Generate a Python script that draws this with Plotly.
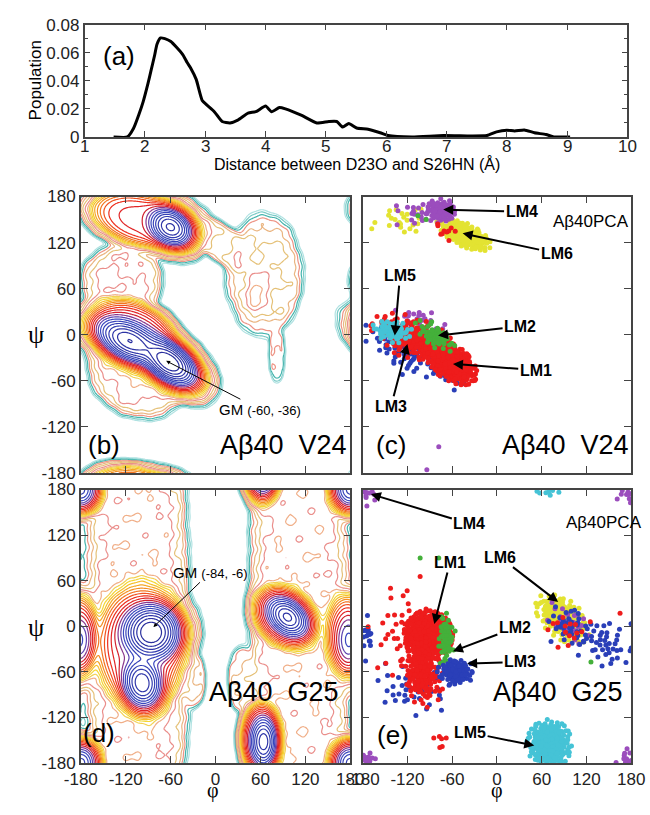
import numpy as np
import plotly.graph_objects as go

# ---------------- panel (a): distance distribution ----------------
dist = [1.48, 1.71, 1.81, 1.90, 1.97, 2.05, 2.10, 2.16, 2.20, 2.26, 2.33, 2.43, 2.52, 2.63, 2.70,
        2.76, 2.85, 2.95, 3.02, 3.15, 3.28, 3.41, 3.54, 3.71, 3.84, 4.00, 4.10, 4.23, 4.33,
        4.59, 4.85, 5.05, 5.18, 5.28, 5.38, 5.51, 5.70, 5.90, 6.03, 6.43, 6.95, 7.41, 7.67,
        7.83, 8.00, 8.13, 8.29, 8.46, 8.65, 8.78, 9.05]
population = [0.0, 0.0, 0.006, 0.016, 0.025, 0.038, 0.047, 0.058, 0.066, 0.0705, 0.070, 0.068,
              0.064, 0.0585, 0.053, 0.049, 0.041, 0.026, 0.023, 0.018, 0.011, 0.010, 0.012,
              0.017, 0.018, 0.022, 0.018, 0.021, 0.020, 0.0155, 0.010, 0.011, 0.011, 0.007,
              0.0096, 0.0064, 0.0055, 0.003, 0.001, 0.0, 0.001, 0.0007, 0.001, 0.0036, 0.0048,
              0.0043, 0.005, 0.003, 0.0017, 0.0, 0.0]
a_xticks = [1, 2, 3, 4, 5, 6, 7, 8, 9, 10]
a_yticks = [0, 0.02, 0.04, 0.06, 0.08]
a_yticktext = ["0", "0.02", "0.04", "0.06", "0.08"]

# ---------------- Ramachandran ticks ----------------
ang_ticks = [-180, -120, -60, 0, 60, 120, 180]
ang_ticktext = ["-180", "-120", "-60", "0", "60", "120", "180"]

# ---------------- free-energy basins (phi0, psi0, s1, s2, angle, g0, power) -------------
v24_phi0 = [-62, -115, -108, -100, -125, -60, -100, -90, 10, 65, 55, 82]
v24_psi0 = [-36, -8, 2, -40, 70, 140, 150, 150, 118, 78, 55, -25]
v24_s1 = [26, 30, 50, 62, 48, 20, 55, 78, 40, 46, 13, 11]
v24_s2 = [15, 16, 32, 58, 42, 15, 28, 38, 22, 70, 20, 36]
v24_ang = [-35, -25, -25, -30, 0, -30, -15, -10, -40, 0, 0, 0]
v24_g0 = [0.0, 0.4, 3.0, 6.2, 6.5, 0.6, 3.3, 6.3, 7.2, 7.0, 6.2, 8.2]
v24_pw = [1, 1, 2, 3, 3, 1, 2, 3, 3, 3, 1, 3]

g25_phi0 = [-86, -98, -100, 96, 93, 64, 60, 180, 180, 178, 175, -105, 112, -30, 35]
g25_psi0 = [-8, -75, -25, 12, 12, -152, -148, 180, 180, -18, -10, 0, 0, -70, -70]
g25_s1 = [23, 17, 48, 20, 38, 12, 22, 14, 25, 14, 24, 60, 58, 16, 18]
g25_s2 = [22, 22, 65, 14, 30, 22, 38, 16, 28, 28, 45, 400, 400, 35, 40]
g25_ang = [0, 10, 0, -40, -40, 0, 0, 0, 0, 0, 0, 0, 0, 0, 0]
g25_g0 = [0.0, 0.7, 3.0, 0.6, 3.0, 0.8, 3.0, 1.5, 3.5, 2.2, 3.8, 6.2, 6.2, 7.5, 7.5]
g25_pw = [1, 1, 2, 1, 2, 1, 2, 1, 2, 1, 2, 3, 3, 3, 3]

# contour colours by free-energy level
level_g = [0.0, 2.2, 2.7, 3.0, 3.6, 4.3, 5.0, 5.6, 6.1, 6.7, 7.3, 7.9, 8.4, 8.7, 10.0]
level_col = ["#2a2f9e", "#3b49c0", "#7a3aa0", "#d01f30", "#ec2a1f", "#f37a20", "#f6b324", "#f3e23a",
             "#f0a890", "#e8868a", "#e4dc70", "#ee9a8c", "#ec9080", "#3fb2aa", "#b0e2e2"]

# ---------------- PCA cluster point clouds (phi, psi, s1, s2, angle, n, colour) ---------
RED, GREEN, BLUE, PURPLE, YELLOW, CYAN = "#ee1c1c", "#44b03a", "#2a3fb8", "#9b4dbd", "#e3e332", "#45c3d6"

c_phi = [-43, -125, -75, -100, -100, -120, -65, -112, -70, -62, -140, -82]
c_psi = [130, 150, 162, 158, 20, -20, -50, -5, 135, -36, 5, -2]
c_s1 = [15, 20, 8, 18, 18, 26, 14, 24, 10, 16, 11, 13]
c_s2 = [6, 10, 6, 9, 5, 13, 7, 11, 5, 9, 6, 6]
c_ang = [-25, 0, 0, 0, -20, -25, -30, -20, 0, -35, -10, -30]
c_n = [260, 25, 90, 30, 20, 90, 20, 240, 10, 480, 80, 60]
c_col = [YELLOW, YELLOW, PURPLE, PURPLE, PURPLE, BLUE, BLUE, RED, RED, RED, CYAN, GREEN]
c_extra_phi = [-78, -94, -106, -95]
c_extra_psi = [-146, -176, 155, 150]
c_extra_col = [PURPLE, PURPLE, GREEN, GREEN]

e_phi = [180, 70, 88, 95, 140, -110, -175, 95, -122, -100, -92, -75, -68, -55, 95]
e_psi = [180, -155, 10, 5, -20, -80, -10, 0, -5, -62, -12, -150, -18, -60, -5]
e_s1 = [9, 12, 17, 14, 24, 25, 4, 15, 22, 11, 13, 4, 5, 10, 15]
e_s2 = [9, 13, 10, 10, 13, 16, 10, 12, 30, 18, 13, 8, 16, 7, 12]
e_ang = [0, 0, -40, -35, -30, 0, 0, -35, 0, 10, 0, 0, 0, 0, -35]
e_n = [40, 320, 230, 30, 50, 50, 15, 30, 50, 170, 700, 6, 60, 120, 15]
e_col = [PURPLE, CYAN, YELLOW, PURPLE, BLUE, BLUE, BLUE, BLUE, RED, RED, RED, RED, GREEN, BLUE, RED]
e_extra_phi = [-103, -78, 126, 165]
e_extra_psi = [90, 90, -47, 17]
e_extra_col = [GREEN, GREEN, GREEN, RED]


def wrap(a):
    return (np.asarray(a) + 180.0) % 360.0 - 180.0


G_KNEE, SQUEEZE = 6.1, 0.3 / 0.55
Z_START, Z_STEP, Z_END = 0.35, 0.3, 8.15


def squeeze(g):
    g = np.asarray(g, dtype=float)
    return np.where(g <= G_KNEE, g, G_KNEE + (g - G_KNEE) * SQUEEZE)


def free_energy(phi0, psi0, s1, s2, ang, g0, pw):
    grid = np.arange(-180, 180.1, 2.0)
    P, S = np.meshgrid(grid, grid)
    tot = np.zeros_like(P)
    for k in range(len(phi0)):
        dp = wrap(P - phi0[k])
        ds = wrap(S - psi0[k])
        th = np.radians(ang[k])
        u = dp * np.cos(th) + ds * np.sin(th)
        v = -dp * np.sin(th) + ds * np.cos(th)
        d2 = (u / s1[k]) ** 2 + (v / s2[k]) ** 2
        tot += np.exp(-g0[k] - d2 ** pw[k])
    G = -np.log(tot + 1e-300)
    G -= G.min()
    tex = 0.3 * (np.sin(P * 0.09 + S * 0.05 + 1.3) * np.cos(S * 0.11 - P * 0.03)
                 + 0.6 * np.sin(P * 0.21 - S * 0.17 + 0.7) * np.sin(S * 0.19 + P * 0.13))
    w = np.clip((G - 4.5) / 2.0, 0, 1)
    G = np.minimum(G + tex * w, 10.6)
    return grid, grid, squeeze(G)


def level_colorscale():
    pos = np.clip((squeeze(level_g) - Z_START) / (Z_END - Z_START), 0, 1)
    out = []
    last = -1
    for p, c in zip(pos, level_col):
        if p <= last:
            out[-1] = [float(p), c]
            continue
        out.append([float(p), c])
        last = p
    out[0][0] = 0.0
    out[-1][0] = 1.0
    return out


def halton(idx, base):
    out = np.zeros(len(idx))
    for j, i in enumerate(idx):
        f, r = 1.0, 0.0
        while i > 0:
            f /= base
            r += f * (i % base)
            i //= base
        out[j] = r
    return out


def clusters(phi, psi, s1, s2, ang, n):
    xs, ys = [], []
    off = 7
    for k in range(len(phi)):
        idx = np.arange(off + 1, off + n[k] + 1)
        off += n[k] + 13
        u1 = halton(idx, 2)
        u2 = halton(idx, 3)
        r = np.minimum(np.sqrt(-2 * np.log(u1)), 2.5)
        a = 2 * np.pi * u2
        x = r * np.cos(a) * s1[k]
        y = r * np.sin(a) * s2[k]
        th = np.radians(ang[k])
        xs.append(wrap(phi[k] + x * np.cos(th) - y * np.sin(th)))
        ys.append(wrap(psi[k] + x * np.sin(th) + y * np.cos(th)))
    return xs, ys


fig = go.Figure()

# (a)
fig.add_trace(go.Scatter(x=dist, y=population, mode="lines",
                         line=dict(color="black", width=3, shape="spline", smoothing=0.5),
                         xaxis="x", yaxis="y", showlegend=False, hoverinfo="skip"))

# (b), (d) contours
cscale = level_colorscale()
for basins, ax in [((v24_phi0, v24_psi0, v24_s1, v24_s2, v24_ang, v24_g0, v24_pw), "2"),
                   ((g25_phi0, g25_psi0, g25_s1, g25_s2, g25_ang, g25_g0, g25_pw), "4")]:
    gx, gy, Z = free_energy(*basins)
    fig.add_trace(go.Contour(x=gx, y=gy, z=Z, xaxis="x" + ax, yaxis="y" + ax,
                             contours=dict(start=Z_START, end=Z_END, size=Z_STEP, coloring="lines"),
                             line=dict(width=1.2), colorscale=cscale,
                             showscale=False, hoverinfo="skip"))

# (c), (e) scatter clouds
for (ph, ps, a1, a2, an, nn, cols, exp_, exs, exc), ax in [
        ((c_phi, c_psi, c_s1, c_s2, c_ang, c_n, c_col, c_extra_phi, c_extra_psi, c_extra_col), "3"),
        ((e_phi, e_psi, e_s1, e_s2, e_ang, e_n, e_col, e_extra_phi, e_extra_psi, e_extra_col), "5")]:
    xs, ys = clusters(ph, ps, a1, a2, an, nn)
    for k in range(len(xs)):
        fig.add_trace(go.Scatter(x=xs[k], y=ys[k], mode="markers", xaxis="x" + ax, yaxis="y" + ax,
                                 marker=dict(size=5, color=cols[k], line=dict(width=0)),
                                 showlegend=False, hoverinfo="skip"))
    fig.add_trace(go.Scatter(x=exp_, y=exs, mode="markers", xaxis="x" + ax, yaxis="y" + ax,
                             marker=dict(size=5, color=exc, line=dict(width=0)),
                             showlegend=False, hoverinfo="skip"))

W, H = 650, 815


def dom_x(l, r):
    return [l / W, r / W]


def dom_y(t, b):
    return [1 - b / H, 1 - t / H]


FONT = "Liberation Sans, Arial, sans-serif"
frame = dict(showline=True, linecolor="#444", linewidth=1.5, mirror="ticks", ticks="inside",
             tickcolor="#444", tickwidth=1.3, showgrid=False, zeroline=False,
             tickfont=dict(family=FONT, size=17, color="#222"))

lay = dict(width=W, height=H, margin=dict(l=0, r=0, t=0, b=0), paper_bgcolor="white",
           plot_bgcolor="white", showlegend=False)
lay["xaxis"] = dict(frame, domain=dom_x(71, 641), range=[1, 10], tickvals=a_xticks, ticklen=6, anchor="y",
                    showticklabels=False)
lay["yaxis"] = dict(frame, domain=dom_y(16, 131), range=[0, 0.08], tickvals=a_yticks, ticktext=a_yticktext,
                    ticklen=6, anchor="x", minor=dict(dtick=0.01, ticklen=4, ticks="inside", tickcolor="#444"))

panels = {"2": (67, 350, 192, 475), "3": (363, 645, 192, 475), "4": (67, 350, 492, 772), "5": (363, 645, 492, 772)}
for ax, (l, r, t, b) in panels.items():
    lay["xaxis" + ax] = dict(frame, domain=dom_x(l, r), range=[-180, 180], tickvals=ang_ticks, ticktext=ang_ticktext,
                             ticklen=7, anchor="y" + ax, showticklabels=ax in ("4", "5"))
    lay["yaxis" + ax] = dict(frame, domain=dom_y(t, b), range=[-180, 180], tickvals=ang_ticks, ticktext=ang_ticktext,
                             ticklen=7, anchor="x" + ax, showticklabels=ax in ("2", "4"))
fig.update_layout(**lay)

ann = []


def txt(text, x, y, ref, size, bold=False, **kw):
    d = dict(text=("<b>%s</b>" % text) if bold else text, x=x, y=y, xref="x" + ref, yref="y" + ref,
             xanchor="center", yanchor="middle",
             showarrow=False, font=dict(family=FONT, size=size, color="black"))
    d.update(kw)
    ann.append(d)


def arrow(text, hx, hy, tx, ty, ref, size=16, bold=True, width=2.0, head=2, asize=1.0):
    ann.append(dict(text=("<b>%s</b>" % text) if bold else text, x=hx, y=hy, ax=tx, ay=ty,
                    xref="x" + ref, yref="y" + ref, axref="x" + ref, ayref="y" + ref,
                    showarrow=True, arrowhead=head, arrowsize=asize, arrowwidth=width, arrowcolor="black",
                    font=dict(family=FONT, size=size, color="black")))


def paper(text, px, py, size, angle=0, family=FONT):
    ann.append(dict(text=text, x=px / W, y=1 - py / H, xref="paper", yref="paper", showarrow=False,
                    xanchor="center", yanchor="middle",
                    textangle=angle, font=dict(family=family, size=size, color="black")))


# x tick labels of panel (a), placed just under the frame as in the original
for v in a_xticks:
    ann.append(dict(text=str(v), x=v, y=1 - 141 / H, xref="x", yref="paper", showarrow=False,
                    xanchor="center", yanchor="middle", font=dict(family=FONT, size=17, color="#222")))

paper("(a)", 107, 48, 26)
paper("Population", 19, 73, 17, angle=-90)
paper("Distance between D23O and S26HN (Å)", 357, 159, 16)
paper("ψ", 20, 333, 26, family="Liberation Serif, serif")
paper("ψ", 20, 633, 26, family="Liberation Serif, serif")
paper("φ", 206, 805, 20, family="Liberation Serif, serif", angle=0) if False else None
ann.append(dict(text="φ", x=206 / W, y=1 - 814 / H, xref="paper", yref="paper", showarrow=False,
                xanchor="center", yanchor="bottom", font=dict(family="Liberation Serif, serif", size=20, color="black")))
ann.append(dict(text="φ", x=504 / W, y=1 - 814 / H, xref="paper", yref="paper", showarrow=False,
                xanchor="center", yanchor="bottom", font=dict(family="Liberation Serif, serif", size=20, color="black")))

# (b)
txt("(b)", -149, -144, "2", 26)
txt("Aβ40  V24", 91, -144, "2", 27)
arrow("GM <span style='font-size:13px'>(-60, -36)</span>", -66, -34, 59, -97, "2", size=15, bold=False, width=1.0, asize=0.8)
# (c)
txt("(c)", -142, -144, "3", 26)
txt("Aβ40  V24", 92, -144, "3", 27)
txt("Aβ40PCA", 126, 148, "3", 17)
arrow("LM4", -72, 163, 33, 160, "3")
arrow("LM6", -46, 132, 80, 106, "3")
arrow("LM5", -137, -1, -130, 77, "3")
arrow("LM2", -79, -1, 31, 11, "3")
arrow("LM1", -59, -38, 52, -46, "3")
arrow("LM3", -120, -12, -142, -93, "3")
# (d)
txt("(d)", -156, -141, "4", 26)
txt("Aβ40  G25", 78, -87, "4", 27)
arrow("GM <span style='font-size:13px'>(-84, -6)</span>", -83, -1, -7, 71, "4", size=15, bold=False, width=1.0, asize=0.8)
# (e)
txt("(e)", -139, -143, "5", 26)
txt("Aβ40  G25", 82, -87, "5", 27)
txt("Aβ40PCA", 144, 137, "5", 17)
arrow("LM4", -169, 174, -37, 135, "5")
arrow("LM1", -84, 3, -63, 84, "5")
arrow("LM6", 82, 32, 4, 91, "5")
arrow("LM2", -59, -33, 24, -2, "5")
arrow("LM3", -40, -49, 31, -47, "5")
arrow("LM5", 50, -157, -36, -140, "5")

fig.update_layout(annotations=ann)
fig.write_html("out.html")
